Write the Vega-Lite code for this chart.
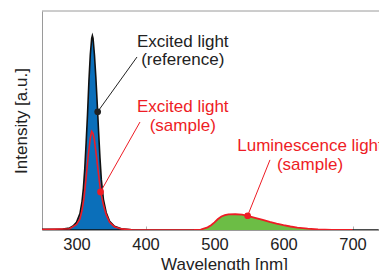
{
  "$schema": "https://vega.github.io/schema/vega-lite/v6.json",
  "width": 337,
  "height": 219,
  "autosize": {"type": "none"},
  "padding": {"left": 42, "top": 11, "right": 0, "bottom": 40},
  "config": {
    "view": {"stroke": null},
    "font": "Liberation Sans",
    "axis": {"grid": false, "domainColor": "#9a9a9a", "tickColor": "#b0b0b0", "labelColor": "#222", "titleColor": "#222", "titleFontWeight": "normal"}
  },
  "datasets": {
    "reference": [
      {"wavelength": 250, "intensity": 0.003}, {"wavelength": 280, "intensity": 0.004}, {"wavelength": 290, "intensity": 0.009},
      {"wavelength": 295, "intensity": 0.018}, {"wavelength": 300, "intensity": 0.035}, {"wavelength": 305, "intensity": 0.075},
      {"wavelength": 308, "intensity": 0.13}, {"wavelength": 310, "intensity": 0.19}, {"wavelength": 312, "intensity": 0.28},
      {"wavelength": 314, "intensity": 0.40}, {"wavelength": 316, "intensity": 0.53}, {"wavelength": 318, "intensity": 0.68},
      {"wavelength": 320, "intensity": 0.80}, {"wavelength": 322, "intensity": 0.875}, {"wavelength": 323, "intensity": 0.887},
      {"wavelength": 324, "intensity": 0.875}, {"wavelength": 326, "intensity": 0.80}, {"wavelength": 328, "intensity": 0.70},
      {"wavelength": 330, "intensity": 0.58}, {"wavelength": 332, "intensity": 0.45}, {"wavelength": 334, "intensity": 0.33},
      {"wavelength": 336, "intensity": 0.23}, {"wavelength": 339, "intensity": 0.14}, {"wavelength": 343, "intensity": 0.08},
      {"wavelength": 348, "intensity": 0.04}, {"wavelength": 355, "intensity": 0.017}, {"wavelength": 365, "intensity": 0.006},
      {"wavelength": 380, "intensity": 0.001}, {"wavelength": 400, "intensity": 0.0}, {"wavelength": 738, "intensity": 0.0}
    ],
    "sampleExcited": [
      {"wavelength": 250, "intensity": 0.002}, {"wavelength": 290, "intensity": 0.006}, {"wavelength": 300, "intensity": 0.025},
      {"wavelength": 305, "intensity": 0.05}, {"wavelength": 308, "intensity": 0.09}, {"wavelength": 311, "intensity": 0.15},
      {"wavelength": 314, "intensity": 0.24}, {"wavelength": 317, "intensity": 0.34}, {"wavelength": 320, "intensity": 0.42},
      {"wavelength": 322, "intensity": 0.45}, {"wavelength": 324, "intensity": 0.44}, {"wavelength": 326, "intensity": 0.41},
      {"wavelength": 328, "intensity": 0.36}, {"wavelength": 331, "intensity": 0.28}, {"wavelength": 334, "intensity": 0.20},
      {"wavelength": 336, "intensity": 0.16}, {"wavelength": 339, "intensity": 0.115}, {"wavelength": 343, "intensity": 0.07},
      {"wavelength": 348, "intensity": 0.035}, {"wavelength": 355, "intensity": 0.015}, {"wavelength": 365, "intensity": 0.005},
      {"wavelength": 380, "intensity": 0.001}, {"wavelength": 420, "intensity": 0.0}, {"wavelength": 470, "intensity": 0.0}
    ],
    "luminescence": [
      {"wavelength": 470, "intensity": 0.0}, {"wavelength": 480, "intensity": 0.002}, {"wavelength": 490, "intensity": 0.012},
      {"wavelength": 495, "intensity": 0.022}, {"wavelength": 500, "intensity": 0.035}, {"wavelength": 505, "intensity": 0.05},
      {"wavelength": 510, "intensity": 0.062}, {"wavelength": 515, "intensity": 0.068}, {"wavelength": 520, "intensity": 0.071},
      {"wavelength": 530, "intensity": 0.072}, {"wavelength": 540, "intensity": 0.07}, {"wavelength": 548, "intensity": 0.064},
      {"wavelength": 560, "intensity": 0.054}, {"wavelength": 570, "intensity": 0.046}, {"wavelength": 580, "intensity": 0.037},
      {"wavelength": 590, "intensity": 0.029}, {"wavelength": 600, "intensity": 0.022}, {"wavelength": 610, "intensity": 0.016},
      {"wavelength": 620, "intensity": 0.011}, {"wavelength": 635, "intensity": 0.006}, {"wavelength": 650, "intensity": 0.003},
      {"wavelength": 670, "intensity": 0.001}, {"wavelength": 700, "intensity": 0.0}
    ],
    "callouts": [
      {"series": "reference", "dotWavelength": 330.7, "dotIntensity": 0.54, "endWavelength": 387.7, "endIntensity": 0.79},
      {"series": "sample", "dotWavelength": 334.8, "dotIntensity": 0.174, "endWavelength": 392, "endIntensity": 0.493},
      {"series": "luminescence", "dotWavelength": 548, "dotIntensity": 0.065, "endWavelength": 580.4, "endIntensity": 0.32}
    ],
    "labels": [
      {"series": "reference", "text": "Excited light", "wavelength": 454, "intensity": 0.858},
      {"series": "reference", "text": "(reference)", "wavelength": 454, "intensity": 0.776},
      {"series": "sample", "text": "Excited light", "wavelength": 454, "intensity": 0.562},
      {"series": "sample", "text": "(sample)", "wavelength": 454, "intensity": 0.475},
      {"series": "luminescence", "text": "Luminescence light", "wavelength": 638.4, "intensity": 0.384},
      {"series": "luminescence", "text": "(sample)", "wavelength": 638.4, "intensity": 0.297}
    ],
    "frame": [{"top": 1}]
  },
  "layer": [
    {
      "data": {"name": "reference"},
      "mark": {"type": "area", "color": "#0b6fba", "stroke": "#111111", "strokeWidth": 1.6, "clip": true},
      "encoding": {
        "x": {"field": "wavelength", "type": "quantitative", "scale": {"domain": [250, 738.4], "nice": false, "zero": false},
          "axis": {"orient": "bottom", "values": [300, 400, 500, 600, 700], "tickSize": -4, "labelFontSize": 16.5, "labelPadding": 10, "title": "Wavelength [nm]", "titleFontSize": 17, "titleX": 182, "titlePadding": 4}},
        "y": {"field": "intensity", "type": "quantitative", "scale": {"domain": [0, 1], "nice": false},
          "axis": {"labels": false, "ticks": false, "title": "Intensity [a.u.]", "titleFontSize": 17, "titlePadding": 12}}
      }
    },
    {
      "data": {"name": "sampleExcited"},
      "mark": {"type": "line", "color": "#ee1c25", "strokeWidth": 1.6, "clip": true},
      "encoding": {
        "x": {"field": "wavelength", "type": "quantitative"},
        "y": {"field": "intensity", "type": "quantitative"}
      }
    },
    {
      "data": {"name": "luminescence"},
      "mark": {"type": "area", "color": "#6cbd45", "clip": true},
      "encoding": {
        "x": {"field": "wavelength", "type": "quantitative"},
        "y": {"field": "intensity", "type": "quantitative"}
      }
    },
    {
      "data": {"name": "luminescence"},
      "mark": {"type": "line", "color": "#ee1c25", "strokeWidth": 1.8, "clip": true},
      "encoding": {
        "x": {"field": "wavelength", "type": "quantitative"},
        "y": {"field": "intensity", "type": "quantitative"}
      }
    },
    {
      "data": {"name": "frame"},
      "mark": {"type": "rule", "color": "#9a9a9a", "strokeWidth": 1},
      "encoding": {
        "y": {"field": "top", "type": "quantitative"}
      }
    },
    {
      "data": {"name": "callouts"},
      "mark": {"type": "rule", "strokeWidth": 1},
      "encoding": {
        "x": {"field": "dotWavelength", "type": "quantitative"},
        "y": {"field": "dotIntensity", "type": "quantitative"},
        "x2": {"field": "endWavelength"},
        "y2": {"field": "endIntensity"},
        "color": {"field": "series", "type": "nominal", "legend": null,
          "scale": {"domain": ["reference", "sample", "luminescence"], "range": ["#222222", "#ee1c25", "#ee1c25"]}}
      }
    },
    {
      "data": {"name": "callouts"},
      "mark": {"type": "point", "filled": true, "size": 45, "opacity": 1},
      "encoding": {
        "x": {"field": "dotWavelength", "type": "quantitative"},
        "y": {"field": "dotIntensity", "type": "quantitative"},
        "color": {"field": "series", "type": "nominal", "legend": null}
      }
    },
    {
      "data": {"name": "labels"},
      "mark": {"type": "text", "fontSize": 17, "align": "center", "baseline": "middle"},
      "encoding": {
        "x": {"field": "wavelength", "type": "quantitative"},
        "y": {"field": "intensity", "type": "quantitative"},
        "text": {"field": "text"},
        "color": {"field": "series", "type": "nominal", "legend": null}
      }
    }
  ]
}
